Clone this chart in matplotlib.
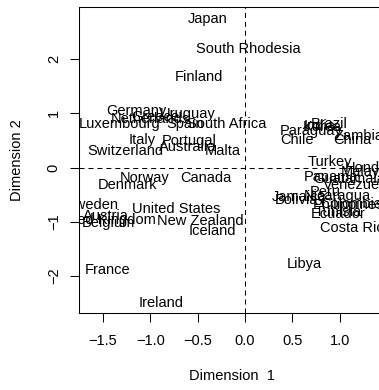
import matplotlib
matplotlib.use('Agg')
import matplotlib.pyplot as plt
from matplotlib.transforms import offset_copy

plt.rcParams['font.family']=['Liberation Sans','DejaVu Sans']

# MDS coordinates
countries=['Japan','South Rhodesia','Finland','Germany','Uruguay','Netherlands','Greece','Luxembourg','Spain','South Africa',
 'Italy','Portugal','Australia','Malta','Switzerland','Norway','Canada','Denmark','Sweden','United States',
 'Austria','United Kingdom','Belgium','New Zealand','Iceland','France','Ireland','Libya','Paraguay','Chile',
 'Brazil','India','Korea','Zambia','China','Turkey','Honduras','Malaysia','Panama','Guatamala',
 'Tunisia','Venezuela','Jamaica','Peru','Nicaragua','Bolivia','Philippines','Colombia','Ecuador','Costa Rica']
dim1=[-0.39,0.04,-0.49,-1.15,-0.60,-1.00,-0.95,-1.32,-0.63,-0.19,
 -1.09,-0.59,-0.60,-0.23,-1.26,-1.06,-0.41,-1.24,-1.62,-0.73,
 -1.47,-1.49,-1.44,-0.47,-0.34,-1.45,-0.89,0.63,0.70,0.55,
 0.89,0.79,0.82,1.21,1.14,0.90,1.39,1.32,0.905,1.10,
 0.99,1.19,0.57,0.85,0.98,0.55,1.09,1.12,0.99,1.17]
dim2=[2.76,2.20,1.69,1.07,1.01,0.91,0.95,0.82,0.82,0.82,
 0.54,0.52,0.40,0.32,0.32,-0.17,-0.17,-0.29,-0.66,-0.74,
 -0.87,-0.95,-0.99,-0.97,-1.15,-1.86,-2.48,-1.76,0.70,0.54,
 0.82,0.78,0.77,0.61,0.53,0.12,0.02,-0.06,-0.16,-0.18,
 -0.80,-0.30,-0.52,-0.43,-0.51,-0.57,-0.67,-0.64,-0.84,-1.09]
xticks=[-1.5,-1.0,-0.5,0.0,0.5,1.0]
yticks=[-2,-1,0,1,2]

fs=10.5
fig=plt.figure(figsize=(3.79,3.90),dpi=100)
ax=fig.add_axes([79/379,77/390,(385-79)/379,306/390])
ax.set_xlim(-1.753,1.48); ax.set_ylim(-2.68,2.96)
ax.spines['right'].set_visible(False)
for s in ax.spines.values(): s.set_linewidth(0.75)
ax.set_xticks(xticks); ax.set_xticklabels([f'{v:.1f}'.replace('-','\u2212') for v in xticks],fontsize=fs)
ax.set_yticks(yticks); ax.set_yticklabels([str(v).replace('-','\u2212') for v in yticks],fontsize=fs,rotation=90,va='center')
ax.tick_params(axis='x',length=6.8,width=0.75,pad=8)
ax.tick_params(axis='y',length=6.8,width=0.75,pad=6.3)

dash=(0,(4.8,3.8))
ax.axhline(0,color='black',lw=0.75,ls=dash)
ax.axvline(0,color='black',lw=0.75,ls=dash)

off=offset_copy(ax.transData,fig=fig,y=-0.358*fs,units='points')
for n,x,y in zip(countries,dim1,dim2):
    ax.text(x,y,n,transform=off,ha='center',va='baseline',fontsize=fs,clip_on=True)

fig.text(232/379,1-376/390,'Dimension  1',ha='center',va='center',fontsize=fs)
fig.text(17/379,1-160/390,'Dimension 2',ha='center',va='center',fontsize=fs,rotation=90)
fig.savefig('out.png',dpi=100)
